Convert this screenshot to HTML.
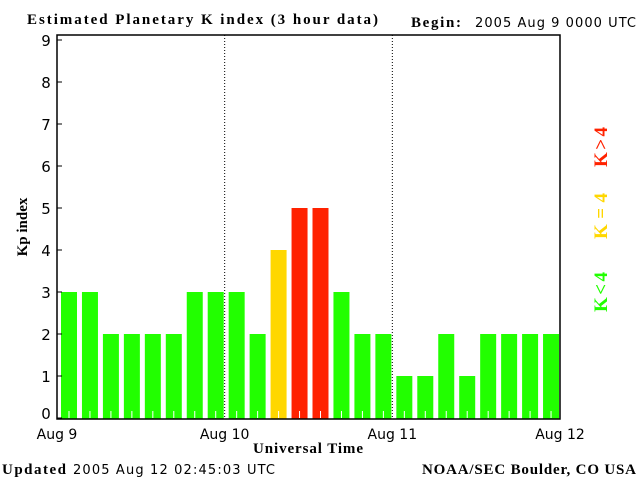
<!DOCTYPE html>
<html><head><meta charset="utf-8"><style>
body{margin:0;background:#fff;width:640px;height:480px;overflow:hidden}
svg{display:block}
.s{font-family:"Liberation Serif",serif;font-weight:bold;font-size:15px}
.n{font-family:"DejaVu Sans","Liberation Sans",sans-serif;font-size:13px}
</style></head><body>
<svg id="c" width="640" height="480">
<text class="s" x="27" y="24" textLength="351" lengthAdjust="spacing">Estimated Planetary K index (3 hour data)</text>
<text class="s" x="411" y="27" textLength="50">Begin:</text>
<text class="n" x="475" y="27" textLength="161">2005 Aug 9 0000 UTC</text>
<text class="s" transform="translate(27,227) rotate(-90)" text-anchor="middle">Kp index</text>
<text class="s" x="253" y="453" textLength="110">Universal Time</text>
<text class="s" x="2" y="474" textLength="64">Updated</text>
<text class="n" x="73" y="474" textLength="202">2005 Aug 12 02:45:03 UTC</text>
<text class="s" x="422" y="474" textLength="214">NOAA/SEC Boulder, CO USA</text>
<g id="bars"></g>
<g id="axes"></g>
<text class="s" transform="translate(607,147) rotate(-90)" text-anchor="middle" fill="#ff2200" style="font-size:19px" textLength="40">K&gt;4</text>
<text class="s" transform="translate(607,216) rotate(-90)" text-anchor="middle" fill="#ffd700" style="font-size:19px" textLength="46">K=4</text>
<text class="s" transform="translate(607,292) rotate(-90)" text-anchor="middle" fill="#22ff00" style="font-size:19px" textLength="40">K&lt;4</text>
</svg>
<script>
const kpValues=[3,3,2,2,2,2,3,3,3,2,4,5,5,3,2,2,1,1,2,1,2,2,2,2];
const yTicks=[0,1,2,3,4,5,6,7,8,9];
const dayLabels=["Aug 9","Aug 10","Aug 11","Aug 12"];
const NS="http://www.w3.org/2000/svg";
const X0=57,X1=560,Y0=418,YT=35,DY=42;
const slot=(X1-X0)/kpValues.length;
function xs(i){return X0+i*slot;}
function ys(v){return Y0-v*DY;}
function mk(t,a,p){const e=document.createElementNS(NS,t);for(const k in a)e.setAttribute(k,a[k]);p.appendChild(e);return e;}
const bars=document.getElementById('bars'),axes=document.getElementById('axes');
kpValues.forEach((v,i)=>{
 const col=v>4?'#ff2200':(v==4?'#ffd700':'#22ff00');
 const r=mk('rect',{x:xs(i)+4,y:ys(v),width:16,height:Y0+1-ys(v),fill:col},bars);
 
 
 mk('line',{x1:xs(i)+12,x2:xs(i)+12,y1:Y0-7,y2:Y0,stroke:'#fff','stroke-width':1},bars);
});
[1,2].forEach(d=>{const x=X0+d*8*slot;mk('line',{x1:x,x2:x,y1:YT,y2:Y0,stroke:'#000','stroke-dasharray':'1,2'},axes);});
mk('rect',{x:X0,y:YT,width:X1-X0,height:Y0+1-YT,fill:'none',stroke:'#000','stroke-width':1.5},axes);
yTicks.forEach(v=>{
 const y=ys(v);
 mk('line',{x1:X0,x2:X0+5,y1:y,y2:y,stroke:'#000'},axes);
 const t=mk('text',{x:46,y:Math.min(y+6,419),'text-anchor':'middle',class:'n',style:'font-size:15px'},axes);t.textContent=v;
 
 
});
dayLabels.forEach((l,d)=>{
 const x=X0+d*8*slot;
 const t=mk('text',{x:x,y:439,'text-anchor':'middle',class:'n',style:'font-size:14px'},axes);t.textContent=l;
 
 
});
</script>
</body></html>
